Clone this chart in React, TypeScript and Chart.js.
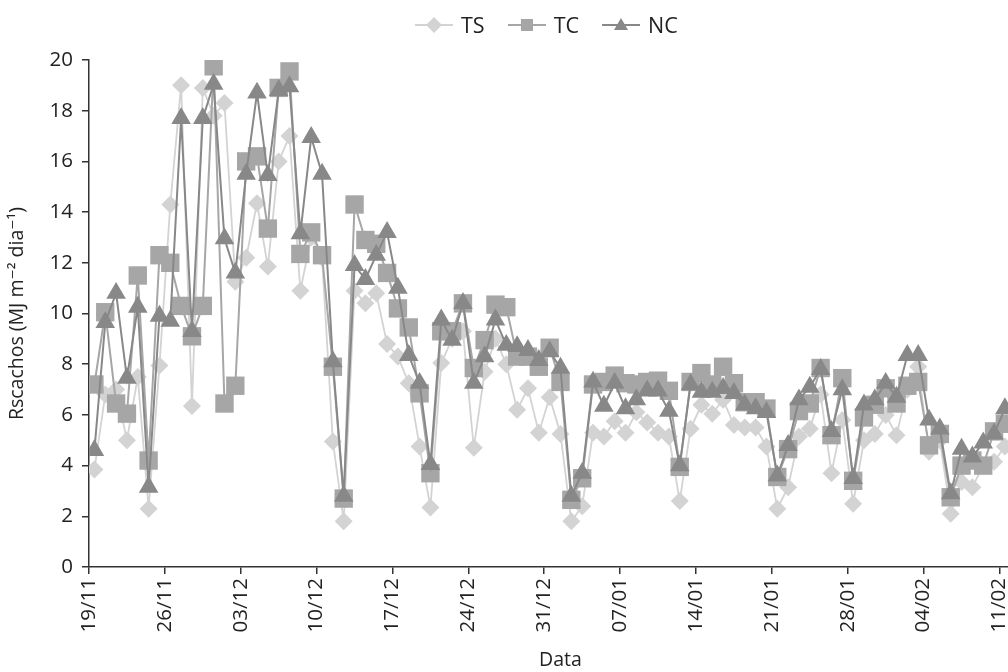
import React, { useEffect, useRef } from "react";
import { Chart, registerables } from "chart.js";

Chart.register(...registerables);

// Tick labels every 7 days, starting 19/11
const tickLabels = ["19/11", "26/11", "03/12", "10/12", "17/12", "24/12", "31/12", "07/01", "14/01", "21/01", "28/01", "04/02", "11/02", "18/02"];
const daysPerTick = 7;
const axisDays = 87;

const seriesNames = ["TS", "TC", "NC"];
const seriesColors = ["#d3d3d3", "#a6a6a6", "#888888"];

// Daily values (Rscachos, MJ m-2 dia-1), day 0 = 19/11
const tsValues = [
  3.85, 6.8, 7.0, 5.0, 7.5, 2.3, 7.95, 14.3, 19.0, 6.35,
  18.9, 17.8, 18.3, 11.25, 12.2, 14.35, 11.85, 16.0, 17.0, 10.9,
  13.0, 12.2, 4.95, 1.8, 10.9, 10.4, 10.8, 8.8, 8.3, 7.25,
  4.75, 2.35, 8.05, 9.0, 9.3, 4.7, 7.7, 9.0, 8.0, 6.2,
  7.05, 5.3, 6.7, 5.25, 1.8, 2.4, 5.3, 5.15, 5.75, 5.3,
  6.1, 5.7, 5.3, 5.15, 2.6, 5.45, 6.4, 6.05, 6.6, 5.6,
  5.5, 5.5, 4.75, 2.3, 3.15, 5.15, 5.45, 6.8, 3.7, 5.8,
  2.5, 5.0, 5.25, 6.0, 5.2, 7.0, 7.9, 4.55, 5.0, 2.1,
  3.35, 3.15, 4.0, 4.15, 4.75,
];
const tcValues = [
  7.2, 10.05, 6.45, 6.05, 11.5, 4.2, 12.3, 12.0, 10.3, 9.1,
  10.3, 19.75, 6.45, 7.15, 16.0, 16.2, 13.35, 18.9, 19.55, 12.35,
  13.2, 12.3, 7.9, 2.7, 14.3, 12.9, 12.75, 11.6, 10.2, 9.45,
  6.85, 3.7, 9.3, 9.3, 10.4, 7.85, 8.95, 10.35, 10.25, 8.3,
  8.3, 7.9, 8.65, 7.3, 2.65, 3.5, 7.2, 7.3, 7.55, 7.25,
  7.2, 7.3, 7.35, 6.95, 3.95, 7.3, 7.65, 7.2, 7.9, 7.25,
  6.5, 6.5, 6.25, 3.55, 4.65, 6.15, 6.45, 7.85, 5.2, 7.45,
  3.4, 5.9, 6.4, 7.05, 6.45, 7.15, 7.3, 4.8, 5.25, 2.75,
  4.0, 4.2, 4.0, 5.35, 5.65,
];
const ncValues = [
  4.6, 9.65, 10.8, 7.45, 10.25, 3.15, 9.9, 9.7, 17.7, 9.3,
  17.7, 19.05, 12.95, 11.6, 15.5, 18.7, 15.45, 18.8, 18.95, 13.15,
  16.95, 15.5, 8.1, 2.8, 11.9, 11.35, 12.3, 13.2, 11.0, 8.35,
  7.25, 4.05, 9.75, 8.95, 10.4, 7.25, 8.3, 9.75, 8.75, 8.7,
  8.55, 8.15, 8.5, 7.85, 2.8, 3.7, 7.3, 6.35, 7.25, 6.25,
  6.6, 6.95, 6.95, 6.15, 4.0, 7.2, 6.9, 6.9, 7.05, 6.85,
  6.4, 6.25, 6.1, 3.6, 4.8, 6.6, 7.1, 7.8, 5.35, 7.0,
  3.5, 6.4, 6.6, 7.25, 6.7, 8.35, 8.35, 5.8, 5.45, 2.9,
  4.65, 4.35, 4.9, 5.25, 6.25,
];

const FONT = "'Open Sans', 'DejaVu Sans', sans-serif";
const TEXT = "#222";
const AXIS = "#333";

function toPoints(values: number[]) {
  // each day occupies one slot; the point sits at the middle of its slot
  return values.map((v, i) => ({ x: i + 0.5, y: v }));
}

function LegendIcon({ kind, color }: { kind: string; color: string }) {
  return (
    <svg width="38" height="20" viewBox="0 0 38 20" style={{ display: "block" }}>
      <line x1="0" y1="10" x2="38" y2="10" stroke={color} strokeWidth="2" />
      {kind === "diamond" && <polygon points="19,2 27,10 19,18 11,10" fill={color} />}
      {kind === "square" && <rect x="13" y="4" width="12" height="12" fill={color} />}
      {kind === "triangle" && <polygon points="19,3 26,15 12,15" fill={color} />}
    </svg>
  );
}

export default function App() {
  const canvasRef = useRef<HTMLCanvasElement | null>(null);

  useEffect(() => {
    if (!canvasRef.current) return;
    const common = { borderWidth: 2, pointBorderWidth: 0, tension: 0, pointHoverRadius: 0 };
    const chart = new Chart(canvasRef.current, {
      type: "line",
      data: {
        datasets: [
          {
            ...common,
            label: seriesNames[0],
            data: toPoints(tsValues),
            borderColor: seriesColors[0],
            backgroundColor: seriesColors[0],
            pointBackgroundColor: seriesColors[0],
            pointBorderColor: seriesColors[0],
            pointStyle: "rectRot",
            pointRadius: 9,
            borderWidth: 1.8,
            order: 3,
          },
          {
            ...common,
            label: seriesNames[1],
            data: toPoints(tcValues),
            borderColor: seriesColors[1],
            backgroundColor: seriesColors[1],
            pointBackgroundColor: seriesColors[1],
            pointBorderColor: seriesColors[1],
            pointStyle: "rect",
            pointRadius: 13,
            order: 2,
          },
          {
            ...common,
            label: seriesNames[2],
            data: toPoints(ncValues),
            borderColor: seriesColors[2],
            backgroundColor: seriesColors[2],
            pointBackgroundColor: seriesColors[2],
            pointBorderColor: seriesColors[2],
            pointStyle: "triangle",
            pointRadius: 11.3,
            order: 1,
          },
        ],
      },
      options: {
        animation: false,
        responsive: true,
        maintainAspectRatio: false,
        layout: { padding: { top: 60, right: 12, left: 0, bottom: 0 } },
        plugins: { legend: { display: false }, tooltip: { enabled: false } },
        scales: {
          x: {
            type: "linear",
            min: 0,
            max: axisDays,
            afterFit: (s: any) => {
              s.height = 105;
            },
            ticks: {
              stepSize: daysPerTick,
              includeBounds: false,
              autoSkip: false,
              maxRotation: 90,
              minRotation: 90,
              padding: 4,
              color: TEXT,
              font: { family: FONT, size: 20.5 },
              callback: (v: any) => tickLabels[Math.round(Number(v) / daysPerTick)] ?? "",
            },
            grid: { display: true, drawOnChartArea: false, drawTicks: true, tickLength: 7, color: AXIS, lineWidth: 1.5 },
            border: { display: true, color: AXIS, width: 1.5 },
            title: { display: true, text: "Data", color: TEXT, font: { family: FONT, size: 19.5 }, padding: { top: 0, bottom: 0 } },
          },
          y: {
            min: 0,
            max: 20,
            afterFit: (s: any) => {
              s.width = 89;
            },
            ticks: { stepSize: 2, padding: 9, color: TEXT, font: { family: FONT, size: 20.5 } },
            grid: { display: true, drawOnChartArea: false, drawTicks: true, tickLength: 7, color: AXIS, lineWidth: 1.5 },
            border: { display: true, color: AXIS, width: 1.5 },
            title: {
              display: true,
              text: "Rscachos (MJ m\u207B\u00B2 dia\u207B\u00B9)",
              color: TEXT,
              font: { family: FONT, size: 19.5 },
              padding: { top: 6, bottom: 0 },
            },
          },
        },
      } as any,
    });
    return () => chart.destroy();
  }, []);

  const kinds = ["diamond", "square", "triangle"];

  return (
    <div style={{ position: "fixed", left: 0, top: 0, width: 1008, height: 672, overflow: "hidden", background: "#fff" }}>
      <div style={{ position: "absolute", left: 0, top: 0, width: 1045, height: 672 }}>
        <canvas ref={canvasRef} />
      </div>
      <div
        style={{
          position: "absolute",
          left: 415,
          top: 13,
          height: 24,
          display: "flex",
          alignItems: "center",
          fontFamily: FONT,
          fontSize: 21.5,
          color: TEXT,
          whiteSpace: "nowrap",
        }}
      >
        {seriesNames.map((name, i) => (
          <div key={name} style={{ display: "flex", alignItems: "center", marginRight: 23 }}>
            <LegendIcon kind={kinds[i]} color={seriesColors[i]} />
            <span style={{ marginLeft: 8, lineHeight: "24px" }}>{name}</span>
          </div>
        ))}
      </div>
    </div>
  );
}
